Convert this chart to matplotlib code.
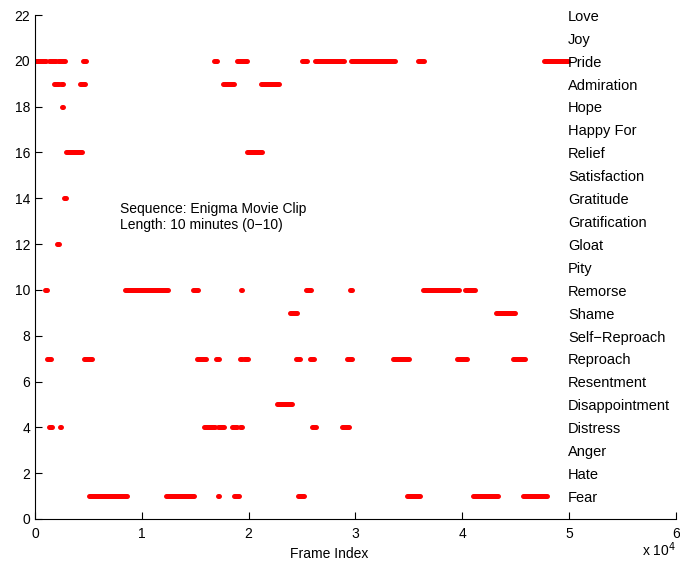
import matplotlib
matplotlib.use("Agg")
import matplotlib.pyplot as plt
from matplotlib.ticker import FuncFormatter

plt.rcParams['font.family'] = ['Liberation Sans', 'DejaVu Sans']

# Emotion labels, listed from top (level 22) to bottom (level 1)
emotions = ["Love", "Joy", "Pride", "Admiration", "Hope", "Happy For", "Relief",
            "Satisfaction", "Gratitude", "Gratification", "Gloat", "Pity",
            "Remorse", "Shame", "Self\u2212Reproach", "Reproach", "Resentment",
            "Disappointment", "Distress", "Anger", "Hate", "Fear"]
emotion_levels = list(range(22, 0, -1))

# Detected emotion intervals (start frame, end frame) per level
pride = [(0, 1000), (1350, 1950), (2150, 2800), (4500, 4750), (16800, 17000),
         (18950, 19800), (25000, 25450), (26250, 28900), (29600, 33700),
         (35850, 36450), (47650, 49900)]
admiration = [(1800, 2200), (2400, 2600), (4250, 4650), (17600, 18600),
              (21150, 22800)]
hope = [(2520, 2600)]
relief = [(2900, 4400), (19850, 21250)]
gratitude = [(2700, 2900)]
gloat = [(2100, 2200)]
remorse = [(900, 1150), (8450, 12450), (14750, 15250), (19300, 19400),
           (25400, 25800), (29500, 29650), (36350, 39700), (40250, 41150)]
shame = [(23900, 24500), (43150, 44900)]
reproach = [(1150, 1450), (4600, 5300), (15200, 16000), (16950, 17200),
            (19200, 19350), (19600, 19950), (24400, 24800), (25700, 26100),
            (29250, 29650), (33500, 35050), (39550, 40400), (44750, 45850)]
disappointment = [(22700, 24050)]
distress = [(1350, 1550), (2300, 2400), (15850, 16850), (17150, 17700),
            (18450, 18900), (19150, 19350), (25950, 26300), (28750, 29400)]
fear = [(5050, 8600), (12300, 14850), (17100, 17250), (18650, 19050),
        (24650, 25150), (34850, 36050), (41000, 43300), (45700, 47900)]

series = {20: pride, 19: admiration, 18: hope, 16: relief, 14: gratitude,
          12: gloat, 10: remorse, 9: shame, 7: reproach, 5: disappointment,
          4: distress, 1: fear}

x_ticks = [0, 10000, 20000, 30000, 40000, 50000, 60000]
y_ticks = list(range(0, 23, 2))

fig = plt.figure(figsize=(6.8, 5.69), dpi=100)
ax = fig.add_axes([0.0515, 0.0879, 0.9425, 0.8857])

for level, spans in series.items():
    for start, end in spans:
        ax.plot([start, end], [level, level], color='#ff0000', lw=3.6,
                solid_capstyle='round')

for name, lvl in zip(emotions, emotion_levels):
    ax.text(49900, lvl - 0.08, name, fontsize=10.5, va='center', ha='left')

ax.text(8000, 13.55, "Sequence: Enigma Movie Clip", fontsize=10, va='center')
ax.text(8000, 12.85, "Length: 10 minutes (0\u221210)", fontsize=10, va='center')

ax.set_xlim(0, 60000)
ax.set_ylim(0, 22)
ax.set_xticks(x_ticks)
ax.set_yticks(y_ticks)
ax.xaxis.set_major_formatter(FuncFormatter(lambda v, p: f"{v / 1e4:g}"))
ax.tick_params(direction='in', length=5, labelsize=10, width=0.8)
ax.tick_params(axis='x', pad=6)
ax.spines['top'].set_visible(False)
ax.spines['right'].set_visible(False)
ax.set_xlabel("Frame Index", fontsize=10)
ax.xaxis.set_label_coords(0.459, -0.055)
fig.text(0.994, 0.018, "x 10$^4$", fontsize=10, ha='right', va='bottom')

fig.savefig("out.png", dpi=100)
